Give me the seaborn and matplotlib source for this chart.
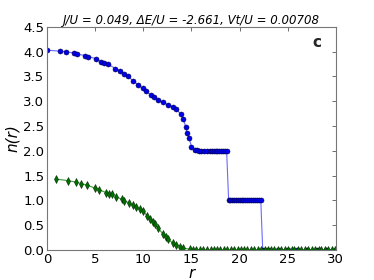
import numpy as np
import pandas as pd
import matplotlib
matplotlib.use("Agg")
import matplotlib.pyplot as plt
import seaborn as sns

# blue series (upper)
r_blue = [0.0, 1.38, 2.0, 2.8, 3.15, 3.98, 4.29, 5.09, 5.6, 5.95, 6.3, 7.1, 7.58, 8.03,
          8.4, 8.96, 9.45, 9.94, 10.28, 10.8, 11.15, 11.56, 12.08, 12.6, 13.05, 13.4,
          13.9, 14.15, 14.4, 14.53, 14.77, 15.0, 15.37, 15.6, 15.8, 16.0, 16.3, 16.6,
          16.9, 17.1, 17.3, 17.5, 17.7, 17.9, 18.1, 18.3, 18.45, 18.65, 18.86, 19.0,
          19.2, 19.4, 19.6, 19.8, 20.0, 20.2, 20.4, 20.6, 20.8, 21.0, 21.2, 21.4, 21.6,
          21.8, 22.0, 22.2, 22.4, 23.0, 24.0, 25.0, 26.0, 27.0, 28.0, 29.0, 30.0]
n_blue = [4.03, 4.01, 4.0, 3.97, 3.95, 3.92, 3.9, 3.86, 3.8, 3.78, 3.75, 3.66, 3.61, 3.55,
          3.5, 3.41, 3.33, 3.26, 3.21, 3.12, 3.08, 3.02, 2.98, 2.92, 2.89, 2.84,
          2.74, 2.64, 2.49, 2.37, 2.25, 2.08, 2.02, 2.01, 2.0, 2.0, 2.0, 2.0,
          2.0, 2.0, 2.0, 2.0, 2.0, 2.0, 2.0, 2.0, 2.0, 2.0, 1.0, 1.0,
          1.0, 1.0, 1.0, 1.0, 1.0, 1.0, 1.0, 1.0, 1.0, 1.0, 1.0, 1.0, 1.0,
          1.0, 1.0, 1.0, 0.0, 0.0, 0.0, 0.0, 0.0, 0.0, 0.0, 0.0, 0.0]

# green series (lower)
r_green = [0.94, 2.18, 2.98, 3.56, 4.12, 4.98, 5.37, 6.1, 6.44, 6.78, 7.17, 7.83, 8.03,
           8.52, 8.97, 9.25, 9.6, 9.95, 10.4, 10.7, 11.0, 11.2, 11.56, 12.0, 12.32,
           12.56, 13.05, 13.4, 13.85, 14.15, 14.84, 15.2, 15.5, 15.9, 16.2, 16.6, 17.0,
           17.3, 17.7, 18.0, 18.4, 18.7, 19.1, 19.4, 19.8, 20.1, 20.5, 20.8, 21.2, 21.5,
           21.9, 22.2, 22.6, 22.9, 23.3, 23.6, 24.0, 24.3, 24.7, 25.0, 25.4, 25.7, 26.1,
           26.4, 26.8, 27.1, 27.5, 27.8, 28.2, 28.5, 28.9, 29.2, 29.6, 29.9]
n_green = [1.43, 1.4, 1.37, 1.34, 1.31, 1.25, 1.22, 1.16, 1.14, 1.12, 1.07, 1.02, 0.99,
           0.95, 0.9, 0.87, 0.83, 0.79, 0.69, 0.63, 0.56, 0.52, 0.44, 0.33, 0.27,
           0.22, 0.14, 0.11, 0.07, 0.04, 0.015, 0.01, 0.005, 0.0, 0.0, 0.0, 0.0,
           0.0, 0.0, 0.0, 0.0, 0.0, 0.0, 0.0, 0.0, 0.0, 0.0, 0.0, 0.0, 0.0,
           0.0, 0.0, 0.0, 0.0, 0.0, 0.0, 0.0, 0.0, 0.0, 0.0, 0.0, 0.0, 0.0,
           0.0, 0.0, 0.0, 0.0, 0.0, 0.0, 0.0, 0.0, 0.0, 0.0, 0.0]

title = "J/U = 0.049, \u0394E/U = -2.661, Vt/U = 0.00708"

sns.set_style("white")
plt.rcParams["font.family"] = ["DejaVu Sans"]

fig = plt.figure(figsize=(3.74, 2.8), dpi=100)
ax = fig.add_axes([0.126, 0.107, 0.772, 0.797])

blue = pd.DataFrame({"r": r_blue, "n": n_blue})
green = pd.DataFrame({"r": r_green, "n": n_green})

sns.lineplot(data=blue, x="r", y="n", ax=ax, sort=False, estimator=None,
             color="#0000ff", lw=0.8, marker="o", markersize=3.6,
             markeredgecolor="#000044", markeredgewidth=0.4)
ax.lines[-1].set_color("#6a6aff")
ax.lines[-1].set_markerfacecolor("#0000ee")
sns.lineplot(data=green, x="r", y="n", ax=ax, sort=False, estimator=None,
             color="#008000", lw=0.8, marker="d", markersize=3.6,
             markeredgecolor="#002800", markeredgewidth=0.4)
ax.lines[-1].set_color("#3a9a3a")
ax.lines[-1].set_markerfacecolor("#007000")

ax.set_xlim(0, 30)
ax.set_ylim(0, 4.5)
ax.set_xticks([0, 5, 10, 15, 20, 25, 30])
ax.set_yticks(np.arange(0, 4.51, 0.5))
ax.tick_params(direction="in", top=True, right=True, length=3, width=0.6,
               labelsize=9.5, color="#555555", labelcolor="black", pad=2)
for s in ax.spines.values():
    s.set_color("#777777")
    s.set_linewidth(0.8)

ax.set_xlabel("r", style="italic", fontsize=11, labelpad=0, color="black")
ax.set_ylabel("n(r)", style="italic", fontsize=11, labelpad=2, color="black")
ax.set_title(title, style="italic", fontsize=8.5, pad=2, color="black")
ax.text(0.935, 0.93, "c", transform=ax.transAxes, fontsize=11, fontweight="bold",
        ha="center", va="center")

fig.savefig("out.png", dpi=100)
